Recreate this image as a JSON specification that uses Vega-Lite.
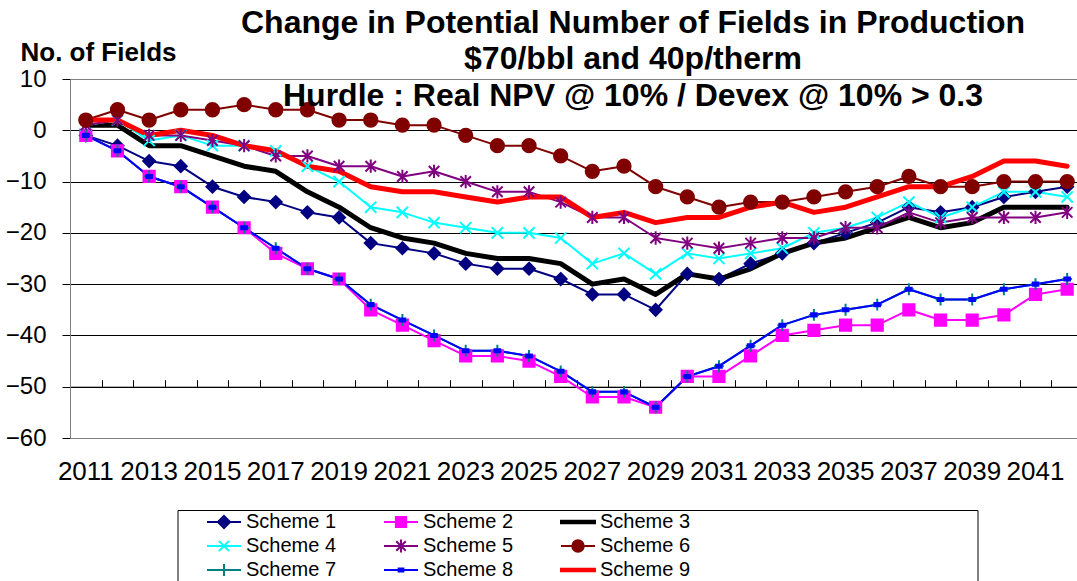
{
  "$schema": "https://vega.github.io/schema/vega-lite/v6.json",
  "width": 1007,
  "height": 359,
  "autosize": "none",
  "padding": {"left": 70, "top": 79, "right": 0, "bottom": 143},
  "background": "white",
  "config": {"view": {"stroke": null}, "font": "Liberation Sans"},
  "title": {
    "text": ["Change in Potential Number of Fields in Production", "$70/bbl and 40p/therm", "Hurdle : Real NPV @ 10% / Devex @ 10% > 0.3"],
    "font": "Liberation Sans",
    "fontSize": 32,
    "fontWeight": "bold",
    "color": "black",
    "lineHeight": 36.7,
    "anchor": "middle",
    "frame": "group",
    "dx": 59.5,
    "baseline": "alphabetic",
    "offset": -99
  },
  "data": {"values": [
    {"year":2011,"series":"Scheme 1","value":-1},{"year":2012,"series":"Scheme 1","value":-3},{"year":2013,"series":"Scheme 1","value":-6},{"year":2014,"series":"Scheme 1","value":-7},{"year":2015,"series":"Scheme 1","value":-11},{"year":2016,"series":"Scheme 1","value":-13},{"year":2017,"series":"Scheme 1","value":-14},{"year":2018,"series":"Scheme 1","value":-16},{"year":2019,"series":"Scheme 1","value":-17},{"year":2020,"series":"Scheme 1","value":-22},{"year":2021,"series":"Scheme 1","value":-23},{"year":2022,"series":"Scheme 1","value":-24},{"year":2023,"series":"Scheme 1","value":-26},{"year":2024,"series":"Scheme 1","value":-27},{"year":2025,"series":"Scheme 1","value":-27},{"year":2026,"series":"Scheme 1","value":-29},{"year":2027,"series":"Scheme 1","value":-32},{"year":2028,"series":"Scheme 1","value":-32},{"year":2029,"series":"Scheme 1","value":-35},{"year":2030,"series":"Scheme 1","value":-28},{"year":2031,"series":"Scheme 1","value":-29},{"year":2032,"series":"Scheme 1","value":-26},{"year":2033,"series":"Scheme 1","value":-24},{"year":2034,"series":"Scheme 1","value":-22},{"year":2035,"series":"Scheme 1","value":-20},{"year":2036,"series":"Scheme 1","value":-18},{"year":2037,"series":"Scheme 1","value":-15},{"year":2038,"series":"Scheme 1","value":-16},{"year":2039,"series":"Scheme 1","value":-15},{"year":2040,"series":"Scheme 1","value":-13},{"year":2041,"series":"Scheme 1","value":-12},{"year":2042,"series":"Scheme 1","value":-11},
    {"year":2011,"series":"Scheme 2","value":-1},{"year":2012,"series":"Scheme 2","value":-4},{"year":2013,"series":"Scheme 2","value":-9},{"year":2014,"series":"Scheme 2","value":-11},{"year":2015,"series":"Scheme 2","value":-15},{"year":2016,"series":"Scheme 2","value":-19},{"year":2017,"series":"Scheme 2","value":-24},{"year":2018,"series":"Scheme 2","value":-27},{"year":2019,"series":"Scheme 2","value":-29},{"year":2020,"series":"Scheme 2","value":-35},{"year":2021,"series":"Scheme 2","value":-38},{"year":2022,"series":"Scheme 2","value":-41},{"year":2023,"series":"Scheme 2","value":-44},{"year":2024,"series":"Scheme 2","value":-44},{"year":2025,"series":"Scheme 2","value":-45},{"year":2026,"series":"Scheme 2","value":-48},{"year":2027,"series":"Scheme 2","value":-52},{"year":2028,"series":"Scheme 2","value":-52},{"year":2029,"series":"Scheme 2","value":-54},{"year":2030,"series":"Scheme 2","value":-48},{"year":2031,"series":"Scheme 2","value":-48},{"year":2032,"series":"Scheme 2","value":-44},{"year":2033,"series":"Scheme 2","value":-40},{"year":2034,"series":"Scheme 2","value":-39},{"year":2035,"series":"Scheme 2","value":-38},{"year":2036,"series":"Scheme 2","value":-38},{"year":2037,"series":"Scheme 2","value":-35},{"year":2038,"series":"Scheme 2","value":-37},{"year":2039,"series":"Scheme 2","value":-37},{"year":2040,"series":"Scheme 2","value":-36},{"year":2041,"series":"Scheme 2","value":-32},{"year":2042,"series":"Scheme 2","value":-31},
    {"year":2011,"series":"Scheme 3","value":1},{"year":2012,"series":"Scheme 3","value":1},{"year":2013,"series":"Scheme 3","value":-3},{"year":2014,"series":"Scheme 3","value":-3},{"year":2015,"series":"Scheme 3","value":-5},{"year":2016,"series":"Scheme 3","value":-7},{"year":2017,"series":"Scheme 3","value":-8},{"year":2018,"series":"Scheme 3","value":-12},{"year":2019,"series":"Scheme 3","value":-15},{"year":2020,"series":"Scheme 3","value":-19},{"year":2021,"series":"Scheme 3","value":-21},{"year":2022,"series":"Scheme 3","value":-22},{"year":2023,"series":"Scheme 3","value":-24},{"year":2024,"series":"Scheme 3","value":-25},{"year":2025,"series":"Scheme 3","value":-25},{"year":2026,"series":"Scheme 3","value":-26},{"year":2027,"series":"Scheme 3","value":-30},{"year":2028,"series":"Scheme 3","value":-29},{"year":2029,"series":"Scheme 3","value":-32},{"year":2030,"series":"Scheme 3","value":-28},{"year":2031,"series":"Scheme 3","value":-29},{"year":2032,"series":"Scheme 3","value":-27},{"year":2033,"series":"Scheme 3","value":-24},{"year":2034,"series":"Scheme 3","value":-22},{"year":2035,"series":"Scheme 3","value":-21},{"year":2036,"series":"Scheme 3","value":-19},{"year":2037,"series":"Scheme 3","value":-17},{"year":2038,"series":"Scheme 3","value":-19},{"year":2039,"series":"Scheme 3","value":-18},{"year":2040,"series":"Scheme 3","value":-15},{"year":2041,"series":"Scheme 3","value":-15},{"year":2042,"series":"Scheme 3","value":-15},
    {"year":2011,"series":"Scheme 4","value":1},{"year":2012,"series":"Scheme 4","value":2},{"year":2013,"series":"Scheme 4","value":-2},{"year":2014,"series":"Scheme 4","value":-1},{"year":2015,"series":"Scheme 4","value":-3},{"year":2016,"series":"Scheme 4","value":-3},{"year":2017,"series":"Scheme 4","value":-4},{"year":2018,"series":"Scheme 4","value":-7},{"year":2019,"series":"Scheme 4","value":-10},{"year":2020,"series":"Scheme 4","value":-15},{"year":2021,"series":"Scheme 4","value":-16},{"year":2022,"series":"Scheme 4","value":-18},{"year":2023,"series":"Scheme 4","value":-19},{"year":2024,"series":"Scheme 4","value":-20},{"year":2025,"series":"Scheme 4","value":-20},{"year":2026,"series":"Scheme 4","value":-21},{"year":2027,"series":"Scheme 4","value":-26},{"year":2028,"series":"Scheme 4","value":-24},{"year":2029,"series":"Scheme 4","value":-28},{"year":2030,"series":"Scheme 4","value":-24},{"year":2031,"series":"Scheme 4","value":-25},{"year":2032,"series":"Scheme 4","value":-24},{"year":2033,"series":"Scheme 4","value":-23},{"year":2034,"series":"Scheme 4","value":-20},{"year":2035,"series":"Scheme 4","value":-19},{"year":2036,"series":"Scheme 4","value":-17},{"year":2037,"series":"Scheme 4","value":-14},{"year":2038,"series":"Scheme 4","value":-17},{"year":2039,"series":"Scheme 4","value":-15},{"year":2040,"series":"Scheme 4","value":-12},{"year":2041,"series":"Scheme 4","value":-12},{"year":2042,"series":"Scheme 4","value":-13},
    {"year":2011,"series":"Scheme 5","value":1},{"year":2012,"series":"Scheme 5","value":2},{"year":2013,"series":"Scheme 5","value":-1},{"year":2014,"series":"Scheme 5","value":-1},{"year":2015,"series":"Scheme 5","value":-2},{"year":2016,"series":"Scheme 5","value":-3},{"year":2017,"series":"Scheme 5","value":-5},{"year":2018,"series":"Scheme 5","value":-5},{"year":2019,"series":"Scheme 5","value":-7},{"year":2020,"series":"Scheme 5","value":-7},{"year":2021,"series":"Scheme 5","value":-9},{"year":2022,"series":"Scheme 5","value":-8},{"year":2023,"series":"Scheme 5","value":-10},{"year":2024,"series":"Scheme 5","value":-12},{"year":2025,"series":"Scheme 5","value":-12},{"year":2026,"series":"Scheme 5","value":-14},{"year":2027,"series":"Scheme 5","value":-17},{"year":2028,"series":"Scheme 5","value":-17},{"year":2029,"series":"Scheme 5","value":-21},{"year":2030,"series":"Scheme 5","value":-22},{"year":2031,"series":"Scheme 5","value":-23},{"year":2032,"series":"Scheme 5","value":-22},{"year":2033,"series":"Scheme 5","value":-21},{"year":2034,"series":"Scheme 5","value":-21},{"year":2035,"series":"Scheme 5","value":-19},{"year":2036,"series":"Scheme 5","value":-19},{"year":2037,"series":"Scheme 5","value":-16},{"year":2038,"series":"Scheme 5","value":-18},{"year":2039,"series":"Scheme 5","value":-17},{"year":2040,"series":"Scheme 5","value":-17},{"year":2041,"series":"Scheme 5","value":-17},{"year":2042,"series":"Scheme 5","value":-16},
    {"year":2011,"series":"Scheme 6","value":2},{"year":2012,"series":"Scheme 6","value":4},{"year":2013,"series":"Scheme 6","value":2},{"year":2014,"series":"Scheme 6","value":4},{"year":2015,"series":"Scheme 6","value":4},{"year":2016,"series":"Scheme 6","value":5},{"year":2017,"series":"Scheme 6","value":4},{"year":2018,"series":"Scheme 6","value":4},{"year":2019,"series":"Scheme 6","value":2},{"year":2020,"series":"Scheme 6","value":2},{"year":2021,"series":"Scheme 6","value":1},{"year":2022,"series":"Scheme 6","value":1},{"year":2023,"series":"Scheme 6","value":-1},{"year":2024,"series":"Scheme 6","value":-3},{"year":2025,"series":"Scheme 6","value":-3},{"year":2026,"series":"Scheme 6","value":-5},{"year":2027,"series":"Scheme 6","value":-8},{"year":2028,"series":"Scheme 6","value":-7},{"year":2029,"series":"Scheme 6","value":-11},{"year":2030,"series":"Scheme 6","value":-13},{"year":2031,"series":"Scheme 6","value":-15},{"year":2032,"series":"Scheme 6","value":-14},{"year":2033,"series":"Scheme 6","value":-14},{"year":2034,"series":"Scheme 6","value":-13},{"year":2035,"series":"Scheme 6","value":-12},{"year":2036,"series":"Scheme 6","value":-11},{"year":2037,"series":"Scheme 6","value":-9},{"year":2038,"series":"Scheme 6","value":-11},{"year":2039,"series":"Scheme 6","value":-11},{"year":2040,"series":"Scheme 6","value":-10},{"year":2041,"series":"Scheme 6","value":-10},{"year":2042,"series":"Scheme 6","value":-10},
    {"year":2011,"series":"Scheme 7","value":-1},{"year":2012,"series":"Scheme 7","value":-4},{"year":2013,"series":"Scheme 7","value":-9},{"year":2014,"series":"Scheme 7","value":-11},{"year":2015,"series":"Scheme 7","value":-15},{"year":2016,"series":"Scheme 7","value":-19},{"year":2017,"series":"Scheme 7","value":-23},{"year":2018,"series":"Scheme 7","value":-27},{"year":2019,"series":"Scheme 7","value":-29},{"year":2020,"series":"Scheme 7","value":-34},{"year":2021,"series":"Scheme 7","value":-37},{"year":2022,"series":"Scheme 7","value":-40},{"year":2023,"series":"Scheme 7","value":-43},{"year":2024,"series":"Scheme 7","value":-43},{"year":2025,"series":"Scheme 7","value":-44},{"year":2026,"series":"Scheme 7","value":-47},{"year":2027,"series":"Scheme 7","value":-51},{"year":2028,"series":"Scheme 7","value":-51},{"year":2029,"series":"Scheme 7","value":-54},{"year":2030,"series":"Scheme 7","value":-48},{"year":2031,"series":"Scheme 7","value":-46},{"year":2032,"series":"Scheme 7","value":-42},{"year":2033,"series":"Scheme 7","value":-38},{"year":2034,"series":"Scheme 7","value":-36},{"year":2035,"series":"Scheme 7","value":-35},{"year":2036,"series":"Scheme 7","value":-34},{"year":2037,"series":"Scheme 7","value":-31},{"year":2038,"series":"Scheme 7","value":-33},{"year":2039,"series":"Scheme 7","value":-33},{"year":2040,"series":"Scheme 7","value":-31},{"year":2041,"series":"Scheme 7","value":-30},{"year":2042,"series":"Scheme 7","value":-29},
    {"year":2011,"series":"Scheme 8","value":-1},{"year":2012,"series":"Scheme 8","value":-4},{"year":2013,"series":"Scheme 8","value":-9},{"year":2014,"series":"Scheme 8","value":-11},{"year":2015,"series":"Scheme 8","value":-15},{"year":2016,"series":"Scheme 8","value":-19},{"year":2017,"series":"Scheme 8","value":-23},{"year":2018,"series":"Scheme 8","value":-27},{"year":2019,"series":"Scheme 8","value":-29},{"year":2020,"series":"Scheme 8","value":-34},{"year":2021,"series":"Scheme 8","value":-37},{"year":2022,"series":"Scheme 8","value":-40},{"year":2023,"series":"Scheme 8","value":-43},{"year":2024,"series":"Scheme 8","value":-43},{"year":2025,"series":"Scheme 8","value":-44},{"year":2026,"series":"Scheme 8","value":-47},{"year":2027,"series":"Scheme 8","value":-51},{"year":2028,"series":"Scheme 8","value":-51},{"year":2029,"series":"Scheme 8","value":-54},{"year":2030,"series":"Scheme 8","value":-48},{"year":2031,"series":"Scheme 8","value":-46},{"year":2032,"series":"Scheme 8","value":-42},{"year":2033,"series":"Scheme 8","value":-38},{"year":2034,"series":"Scheme 8","value":-36},{"year":2035,"series":"Scheme 8","value":-35},{"year":2036,"series":"Scheme 8","value":-34},{"year":2037,"series":"Scheme 8","value":-31},{"year":2038,"series":"Scheme 8","value":-33},{"year":2039,"series":"Scheme 8","value":-33},{"year":2040,"series":"Scheme 8","value":-31},{"year":2041,"series":"Scheme 8","value":-30},{"year":2042,"series":"Scheme 8","value":-29},
    {"year":2011,"series":"Scheme 9","value":2},{"year":2012,"series":"Scheme 9","value":2},{"year":2013,"series":"Scheme 9","value":-1},{"year":2014,"series":"Scheme 9","value":0},{"year":2015,"series":"Scheme 9","value":-1},{"year":2016,"series":"Scheme 9","value":-3},{"year":2017,"series":"Scheme 9","value":-4},{"year":2018,"series":"Scheme 9","value":-7},{"year":2019,"series":"Scheme 9","value":-8},{"year":2020,"series":"Scheme 9","value":-11},{"year":2021,"series":"Scheme 9","value":-12},{"year":2022,"series":"Scheme 9","value":-12},{"year":2023,"series":"Scheme 9","value":-13},{"year":2024,"series":"Scheme 9","value":-14},{"year":2025,"series":"Scheme 9","value":-13},{"year":2026,"series":"Scheme 9","value":-13},{"year":2027,"series":"Scheme 9","value":-17},{"year":2028,"series":"Scheme 9","value":-16},{"year":2029,"series":"Scheme 9","value":-18},{"year":2030,"series":"Scheme 9","value":-17},{"year":2031,"series":"Scheme 9","value":-17},{"year":2032,"series":"Scheme 9","value":-15},{"year":2033,"series":"Scheme 9","value":-14},{"year":2034,"series":"Scheme 9","value":-16},{"year":2035,"series":"Scheme 9","value":-15},{"year":2036,"series":"Scheme 9","value":-13},{"year":2037,"series":"Scheme 9","value":-11},{"year":2038,"series":"Scheme 9","value":-11},{"year":2039,"series":"Scheme 9","value":-9},{"year":2040,"series":"Scheme 9","value":-6},{"year":2041,"series":"Scheme 9","value":-6},{"year":2042,"series":"Scheme 9","value":-7}
  ]},
  "encoding": {
    "y": {
      "field": "value", "type": "quantitative",
      "scale": {"domain": [-60, 10], "nice": false, "zero": false},
      "axis": {
        "values": [-60, -50, -40, -30, -20, -10, 0, 10],
        "title": "No. of Fields", "titleAngle": 0, "titleAlign": "left", "titleBaseline": "alphabetic",
        "titleX": -50, "titleY": -19, "titleFont": "Liberation Sans", "titleFontSize": 26, "titleFontWeight": "bold", "titleColor": "black",
        "labelFont": "Liberation Sans", "labelFontSize": 24, "labelColor": "black", "labelPadding": 16,
        "tickSize": 8, "tickColor": "black", "domainColor": "#808080",
        "grid": true, "gridColor": {"condition": {"test": "datum.value === 10 || datum.value === -60", "value": "#808080"}, "value": "black"},
        "gridOpacity": 1, "gridWidth": 1
      }
    }
  },
  "layer": [
    {
      "mark": {"type": "line", "strokeJoin": "round", "strokeCap": "round"},
      "encoding": {
        "x": {"field": "year", "type": "ordinal", "scale": {"type": "band", "range": [0, 1013], "paddingInner": 0, "paddingOuter": 0},
          "axis": {"values": [2011,2013,2015,2017,2019,2021,2023,2025,2027,2029,2031,2033,2035,2037,2039,2041], "title": null, "domain": false, "ticks": false, "grid": false, "labelAngle": 0, "labelFont": "Liberation Sans", "labelFontSize": 26, "labelColor": "black", "labelPadding": 20, "labelOverlap": false, "labelFlush": false}},
        "color": {"field": "series", "type": "nominal", "legend": null,
          "scale": {"domain": ["Scheme 1","Scheme 2","Scheme 3","Scheme 4","Scheme 5","Scheme 6","Scheme 7","Scheme 8","Scheme 9"],
                    "range": ["#000080","#FF00FF","#000000","#00FFFF","#800080","#800000","#008080","#0000FF","#FF0000"]}},
        "strokeWidth": {"condition": {"test": "datum.series === 'Scheme 3' || datum.series === 'Scheme 9'", "value": 5}, "value": 2}
      }
    },
    {
      "transform": [{"filter": {"not": {"field": "series", "oneOf": ["Scheme 3", "Scheme 9"]}}}],
      "mark": {"type": "point", "filled": true, "strokeWidth": 2, "size": 196, "opacity": 1},
      "encoding": {
        "x": {"field": "year", "type": "ordinal", "scale": {"type": "band", "range": [0, 1013], "paddingInner": 0, "paddingOuter": 0},
          "axis": {"title": null, "labels": false, "grid": false, "domain": true, "domainColor": "black", "domainWidth": 1, "ticks": true, "tickBand": "extent", "tickSize": 7, "tickColor": "black", "tickWidth": 1, "offset": -307.71}},
        "color": {"field": "series", "type": "nominal", "legend": null,
          "scale": {"domain": ["Scheme 1","Scheme 2","Scheme 4","Scheme 5","Scheme 6","Scheme 7","Scheme 8"],
                    "range": ["#000080","#FF00FF","#00FFFF","#800080","#800000","#008080","#0000FF"]}},
        "stroke": {"field": "series", "type": "nominal", "legend": null,
          "scale": {"domain": ["Scheme 1","Scheme 2","Scheme 4","Scheme 5","Scheme 6","Scheme 7","Scheme 8"],
                    "range": ["#000080","#FF00FF","#00FFFF","#800080","#800000","#008080","#0000FF"]}},
        "shape": {"field": "series", "type": "nominal", "legend": null,
          "scale": {"domain": ["Scheme 1","Scheme 2","Scheme 4","Scheme 5","Scheme 6","Scheme 7","Scheme 8"],
                    "range": [
                      "M0,-0.85L0.85,0L0,0.85L-0.85,0Z",
                      "M-0.8,-0.8H0.8V0.8H-0.8Z",
                      "M-0.8,-0.8L0.8,0.8M-0.8,0.8L0.8,-0.8",
                      "M-0.75,-0.75L0.75,0.75M-0.75,0.75L0.75,-0.75M0,-0.95V0.95",
                      "M0.95,0A0.95,0.95 0 1,1 -0.95,0A0.95,0.95 0 1,1 0.95,0Z",
                      "M-0.7,0H0.7M0,-0.85V0.85",
                      "M-0.4,-0.22H0.4V0.22H-0.4Z"
                    ]}}
      }
    },
    {
      "mark": {"type": "point", "filled": true, "strokeWidth": 2, "opacity": 0},
      "encoding": {
        "x": {"field": "year", "type": "ordinal", "scale": {"type": "band", "range": [0, 1013], "paddingInner": 0, "paddingOuter": 0}, "axis": null},
        "color": {"field": "series", "type": "nominal",
          "scale": {"domain": ["Scheme 1","Scheme 4","Scheme 7","Scheme 2","Scheme 5","Scheme 8","Scheme 3","Scheme 6","Scheme 9"],
                    "range": ["#000080","#00FFFF","#008080","#FF00FF","#800080","#0000FF","#000000","#800000","#FF0000"]},
          "legend": {"title": "\u00a0", "titleOrient": "right", "titlePadding": 287, "titleFontSize": 10, "orient": "none", "legendX": 107.5, "legendY": 431, "columns": 3, "symbolSize": 1156, "symbolStrokeWidth": 2, "symbolOpacity": 1, "symbolOffset": 28.5, "labelOffset": 4, "labelFont": "Liberation Sans", "labelFontSize": 20, "labelColor": "black", "clipHeight": 24, "rowPadding": 0, "columnPadding": 18, "padding": 0, "strokeColor": "black"}},
        "stroke": {"field": "series", "type": "nominal",
          "scale": {"domain": ["Scheme 1","Scheme 4","Scheme 7","Scheme 2","Scheme 5","Scheme 8","Scheme 3","Scheme 6","Scheme 9"],
                    "range": ["#000080","#00FFFF","#008080","#FF00FF","#800080","#0000FF","#000000","#800000","#FF0000"]},
          "legend": {"title": "\u00a0", "titleOrient": "right", "titlePadding": 287, "titleFontSize": 10, "orient": "none", "legendX": 107.5, "legendY": 431, "columns": 3, "symbolSize": 1156, "symbolStrokeWidth": 2, "symbolOpacity": 1, "symbolOffset": 28.5, "labelOffset": 4, "labelFont": "Liberation Sans", "labelFontSize": 20, "labelColor": "black", "clipHeight": 24, "rowPadding": 0, "columnPadding": 18, "padding": 0, "strokeColor": "black"}},
        "shape": {"field": "series", "type": "nominal",
          "scale": {"domain": ["Scheme 1","Scheme 4","Scheme 7","Scheme 2","Scheme 5","Scheme 8","Scheme 3","Scheme 6","Scheme 9"],
                    "range": [
                      "M-1,0H1M0,-0.36L0.36,0L0,0.36L-0.36,0Z",
                      "M-1,0H1M-0.3,-0.3L0.3,0.3M-0.3,0.3L0.3,-0.3",
                      "M-1,0H1M0,-0.36V0.36",
                      "M-1,0H1M-0.3,-0.3H0.3V0.3H-0.3Z",
                      "M-1,0H1M-0.28,-0.28L0.28,0.28M-0.28,0.28L0.28,-0.28M0,-0.38V0.38",
                      "M-1,0H1M-0.14,-0.09H0.14V0.09H-0.14Z",
                      "M-1,-0.08H1V0.08H-1Z",
                      "M-1,0H1M0.34,0A0.34,0.34 0 1,1 -0.34,0A0.34,0.34 0 1,1 0.34,0Z",
                      "M-1,-0.08H1V0.08H-1Z"
                    ]},
          "legend": {"title": "\u00a0", "titleOrient": "right", "titlePadding": 287, "titleFontSize": 10, "orient": "none", "legendX": 107.5, "legendY": 431, "columns": 3, "symbolSize": 1156, "symbolStrokeWidth": 2, "symbolOpacity": 1, "symbolOffset": 28.5, "labelOffset": 4, "labelFont": "Liberation Sans", "labelFontSize": 20, "labelColor": "black", "clipHeight": 24, "rowPadding": 0, "columnPadding": 18, "padding": 0, "strokeColor": "black"}}
      }
    }
  ],
  "resolve": {"scale": {"color": "independent", "stroke": "independent", "shape": "independent"}, "axis": {"x": "independent"}}
}
